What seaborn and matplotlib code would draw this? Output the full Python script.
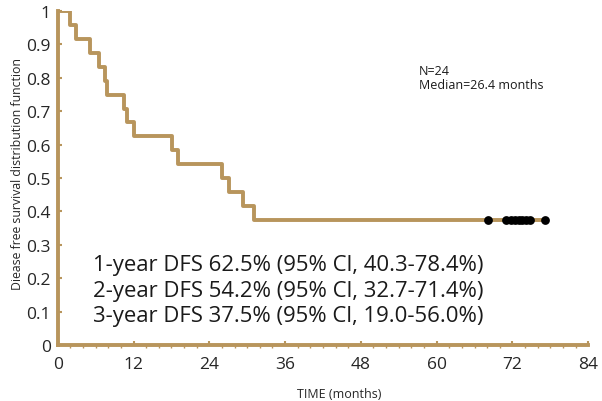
import numpy as np
import pandas as pd
import matplotlib
matplotlib.use('Agg')
import matplotlib.pyplot as plt
import seaborn as sns

# step curve (months, survival)
step_time = [0, 1.9, 2.9, 5.1, 6.5, 7.4, 7.8, 10.5, 11.0, 12.0, 18.1, 19.1, 26.0, 27.1, 29.3, 31.1, 77.2]
step_surv = [1.0, 0.958, 0.917, 0.875, 0.833, 0.792, 0.75, 0.708, 0.667, 0.625, 0.583, 0.542, 0.5, 0.458, 0.417, 0.375, 0.375]

# censored patients
cens_time = [68.2, 71.0, 71.8, 72.4, 73.0, 73.6, 74.2, 74.8, 77.2]
cens_surv = [0.375] * len(cens_time)

dfs_lines = ['1-year DFS 62.5% (95% Cl, 40.3-78.4%)',
             '2-year DFS 54.2% (95% Cl, 32.7-71.4%)',
             '3-year DFS 37.5% (95% Cl, 19.0-56.0%)']
dfs_y = [0.24, 0.165, 0.09]

tan = '#b8955c'

sns.set_theme(style='white')
plt.rcParams['font.family'] = ['Open Sans', 'DejaVu Sans']

fig = plt.figure(figsize=(6.02, 4.02), dpi=100)
ax = fig.add_axes([0.096, 0.139, 0.881, 0.831])

curve = pd.DataFrame({'time': step_time, 'surv': step_surv})
sns.lineplot(data=curve, x='time', y='surv', ax=ax, color=tan, linewidth=2.8,
             drawstyle='steps-post', estimator=None, sort=False)
cens = pd.DataFrame({'time': cens_time, 'surv': cens_surv})
sns.scatterplot(data=cens, x='time', y='surv', ax=ax, color='black', s=40,
                edgecolor='black', linewidth=0, zorder=3)

ax.set_xlim(0, 84)
ax.set_ylim(0, 1)
ax.set_xticks(range(0, 85, 12))
ax.set_xticks(range(0, 85, 2), minor=True)
ax.set_yticks(np.round(np.arange(0, 1.01, 0.1), 1))
ax.set_yticklabels(['0', '0.1', '0.2', '0.3', '0.4', '0.5', '0.6', '0.7', '0.8', '0.9', '1'])

for side in ['top', 'right']:
    ax.spines[side].set_visible(False)
for side in ['left', 'bottom']:
    ax.spines[side].set_color(tan)
    ax.spines[side].set_linewidth(2.8)

ax.tick_params(axis='y', which='major', direction='in', length=3, width=1.5,
               color=tan, labelsize=12.5, pad=5)
ax.tick_params(axis='x', which='major', direction='in', length=3, width=1.5,
               color=tan, labelsize=12.5, pad=8)
ax.tick_params(axis='x', which='minor', direction='out', length=2, width=1,
               color=tan)
ax.tick_params(bottom=True, left=True, which='both')

ax.set_xlabel('TIME (months)', fontsize=9, labelpad=7)
ax.xaxis.set_label_coords(0.53, -0.125)
ax.set_ylabel('Diease free survival distribution function', fontsize=8.8, labelpad=4)
ax.yaxis.set_label_coords(-0.064, 0.515)

for txt, yy in zip(dfs_lines, dfs_y):
    ax.text(5.6, yy, txt, fontsize=15.9, va='center', ha='left', color='#1a1a1a')

ax.text(57.2, 0.8, 'N=24\nMedian=26.4 months', fontsize=9, va='center',
        ha='left', linespacing=1.1, color='#1a1a1a')

fig.savefig('out.png', dpi=100)
